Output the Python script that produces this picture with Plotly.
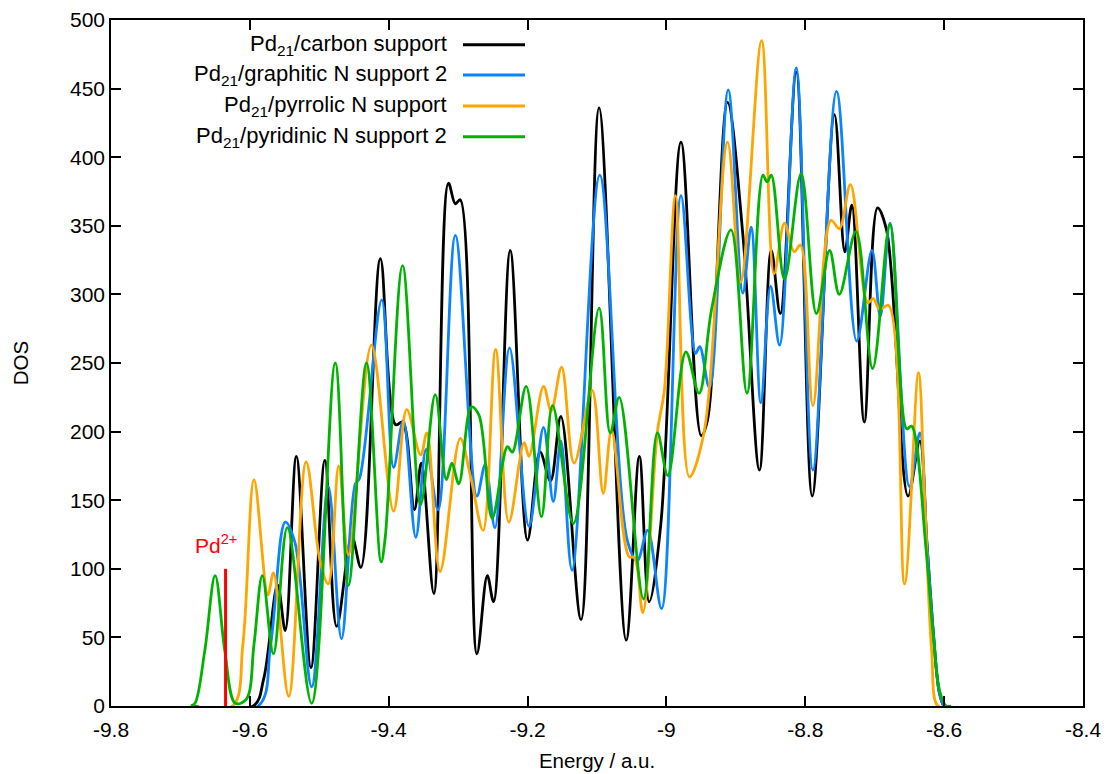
import plotly.graph_objects as go

# ---------------- data ----------------
black_x = [-9.685, -9.595, -9.580, -9.560, -9.549, -9.533, -9.512, -9.492, -9.475, -9.453,
           -9.440, -9.412, -9.390, -9.380, -9.363, -9.353, -9.335, -9.314, -9.304, -9.297,
           -9.273, -9.258, -9.249, -9.225, -9.200, -9.182, -9.167, -9.152, -9.123, -9.097,
           -9.058, -9.039, -9.025, -9.008, -8.979, -8.950, -8.941, -8.912, -8.890, -8.866,
           -8.849, -8.836, -8.813, -8.790, -8.758, -8.743, -8.733, -8.715, -8.696, -8.683,
           -8.652, -8.635, -8.625, -8.615, -8.607, -8.600, -8.592]
black_y = [0, 0, 20, 88, 55, 182, 28, 179, 58, 123,
           101, 326, 205, 207, 143, 177, 82, 381, 366, 369,
           38, 95, 76, 332, 121, 185, 164, 211, 63, 436,
           48, 182, 76, 133, 411, 197, 208, 440, 344, 172,
           332, 286, 462, 153, 431, 331, 365, 207, 363, 347,
           153, 193, 120, 50, 10, 0, 0]

blue_x = [-9.685, -9.588, -9.570, -9.549, -9.535, -9.511, -9.487, -9.468, -9.448, -9.442,
          -9.410, -9.393, -9.379, -9.361, -9.346, -9.329, -9.304, -9.273, -9.261, -9.247,
          -9.226, -9.198, -9.177, -9.163, -9.152, -9.136, -9.096, -9.056, -9.042, -9.027,
          -9.007, -8.979, -8.958, -8.952, -8.938, -8.911, -8.890, -8.878, -8.864, -8.850,
          -8.837, -8.813, -8.789, -8.755, -8.726, -8.704, -8.692, -8.678, -8.650, -8.635,
          -8.625, -8.615, -8.607, -8.600, -8.592]
blue_y = [0, 0, 45, 134, 119, 14, 160, 49, 162, 166,
          296, 174, 208, 123, 187, 143, 343, 153, 176, 130,
          261, 131, 203, 149, 193, 99, 387, 120, 106, 128,
          71, 372, 257, 262, 232, 449, 301, 349, 221, 306,
          263, 465, 172, 448, 266, 332, 284, 352, 160, 199,
          120, 50, 10, 0, 0]

orange_x = [-9.685, -9.625, -9.610, -9.594, -9.574, -9.566, -9.544, -9.519, -9.499, -9.487,
            -9.472, -9.458, -9.425, -9.393, -9.374, -9.354, -9.345, -9.326, -9.297, -9.282,
            -9.264, -9.246, -9.227, -9.205, -9.198, -9.177, -9.166, -9.151, -9.133, -9.107,
            -9.091, -9.079, -9.054, -9.046, -9.034, -9.013, -9.003, -8.987, -8.967, -8.946,
            -8.912, -8.893, -8.863, -8.845, -8.830, -8.816, -8.807, -8.789, -8.763, -8.751,
            -8.735, -8.710, -8.702, -8.693, -8.680, -8.657, -8.637, -8.628, -8.618, -8.609,
            -8.592]
orange_y = [0, 0, 45, 165, 81, 97, 7, 178, 106, 89,
            175, 110, 263, 142, 216, 183, 199, 98, 195, 167,
            128, 260, 134, 192, 182, 233, 215, 247, 177, 230,
            155, 201, 109, 108, 68, 200, 230, 372, 167, 199,
            411, 309, 485, 315, 352, 331, 336, 219, 354, 348,
            380, 294, 297, 289, 292, 89, 243, 150, 40, 0,
            0]

green_x = [-9.685, -9.679, -9.665, -9.650, -9.636, -9.621, -9.605, -9.594, -9.582, -9.566,
           -9.546, -9.511, -9.477, -9.458, -9.432, -9.411, -9.405, -9.380, -9.354, -9.333,
           -9.317, -9.309, -9.299, -9.281, -9.270, -9.251, -9.229, -9.222, -9.202, -9.180,
           -9.164, -9.134, -9.097, -9.081, -9.068, -9.033, -9.013, -8.998, -8.972, -8.953,
           -8.935, -8.907, -8.884, -8.861, -8.855, -8.849, -8.830, -8.806, -8.784, -8.765,
           -8.751, -8.727, -8.703, -8.678, -8.654, -8.647, -8.626, -8.616, -8.606, -8.597,
           -8.590]
green_y = [0, 2, 40, 95, 40, 2, 5, 45, 95, 38,
           130, 2, 250, 88, 250, 105, 123, 321, 147, 227,
           165, 177, 162, 218, 212, 137, 189, 185, 233, 138,
           219, 133, 290, 199, 225, 78, 199, 168, 258, 228,
           289, 347, 228, 387, 382, 387, 311, 388, 286, 332,
           300, 346, 246, 351, 202, 204, 114, 53, 10, 0,
           0]

pd2_x = [-9.635, -9.635]
pd2_y = [0, 100]

series_names = ["Pd<sub>21</sub>/carbon support",
                "Pd<sub>21</sub>/graphitic N support 2",
                "Pd<sub>21</sub>/pyrrolic N support",
                "Pd<sub>21</sub>/pyridinic N support 2"]
series_colors = ["#000000", "#0a84ff", "#ffa500", "#00b300"]

x_tick_vals = [-9.8, -9.6, -9.4, -9.2, -9.0, -8.8, -8.6, -8.4]
x_tick_text = ["-9.8", "-9.6", "-9.4", "-9.2", "-9", "-8.8", "-8.6", "-8.4"]
y_tick_vals = [0, 50, 100, 150, 200, 250, 300, 350, 400, 450, 500]

# ---------------- figure ----------------
FONT = "Liberation Sans, Arial, Helvetica, sans-serif"
fig = go.Figure()

all_x = [black_x, blue_x, orange_x, green_x]
all_y = [black_y, blue_y, orange_y, green_y]
for xs, ys, name, col in zip(all_x, all_y, series_names, series_colors):
    fig.add_trace(go.Scatter(x=xs, y=ys, mode="lines", name=name,
                             line=dict(color=col, width=2.8, shape="spline", smoothing=1.0),
                             showlegend=False))

fig.add_trace(go.Scatter(x=pd2_x, y=pd2_y, mode="lines", name="Pd2+",
                         line=dict(color="#ff0000", width=3), showlegend=False))

# Pd2+ label
fig.add_annotation(x=-9.649, y=118, text="Pd<sup>2+</sup>", showarrow=False,
                   font=dict(family=FONT, size=21, color="#ff0000"),
                   xanchor="center", yanchor="middle")

# gnuplot-style key (text right-aligned, sample line on the right)
W, H = 972.0, 686.0
leg_rows_py = [44.7, 75.0, 106.0, 136.7]
for name, col, py in zip(series_names, series_colors, leg_rows_py):
    yp = (706 - py) / H
    fig.add_annotation(xref="paper", yref="paper", x=(449 - 111) / W, y=yp,
                       text=name, showarrow=False, xanchor="right", yanchor="middle",
                       font=dict(family=FONT, size=22, color="#000000"))
    fig.add_shape(type="line", xref="paper", yref="paper",
                  x0=(463 - 111) / W, x1=(525 - 111) / W, y0=yp, y1=yp,
                  line=dict(color=col, width=3))

axis_common = dict(showgrid=False, zeroline=False, showline=True, linecolor="#000000",
                   linewidth=1.5, mirror="allticks", ticks="inside", ticklen=10,
                   tickwidth=1.5, tickcolor="#000000", automargin=False,
                   tickfont=dict(family=FONT, size=21, color="#000000"))

fig.update_layout(
    width=1104, height=774,
    margin=dict(l=111, r=21, t=20, b=68, pad=0),
    paper_bgcolor="#ffffff", plot_bgcolor="#ffffff",
    font=dict(family=FONT, size=20, color="#000000"),
    xaxis=dict(range=[-9.8, -8.4], tickvals=x_tick_vals, ticktext=x_tick_text,
               ticklabelstandoff=4,
               title=dict(text="Energy / a.u.", standoff=14,
                          font=dict(family=FONT, size=20.5, color="#000000")),
               **axis_common),
    yaxis=dict(range=[0, 500], tickvals=y_tick_vals,
               title=dict(text="DOS", standoff=36,
                          font=dict(family=FONT, size=20.5, color="#000000")),
               **axis_common),
)

fig.write_html("out.html",
               config={"displayModeBar": False},
               post_script="document.body.style.margin='0';document.body.style.padding='0';")
